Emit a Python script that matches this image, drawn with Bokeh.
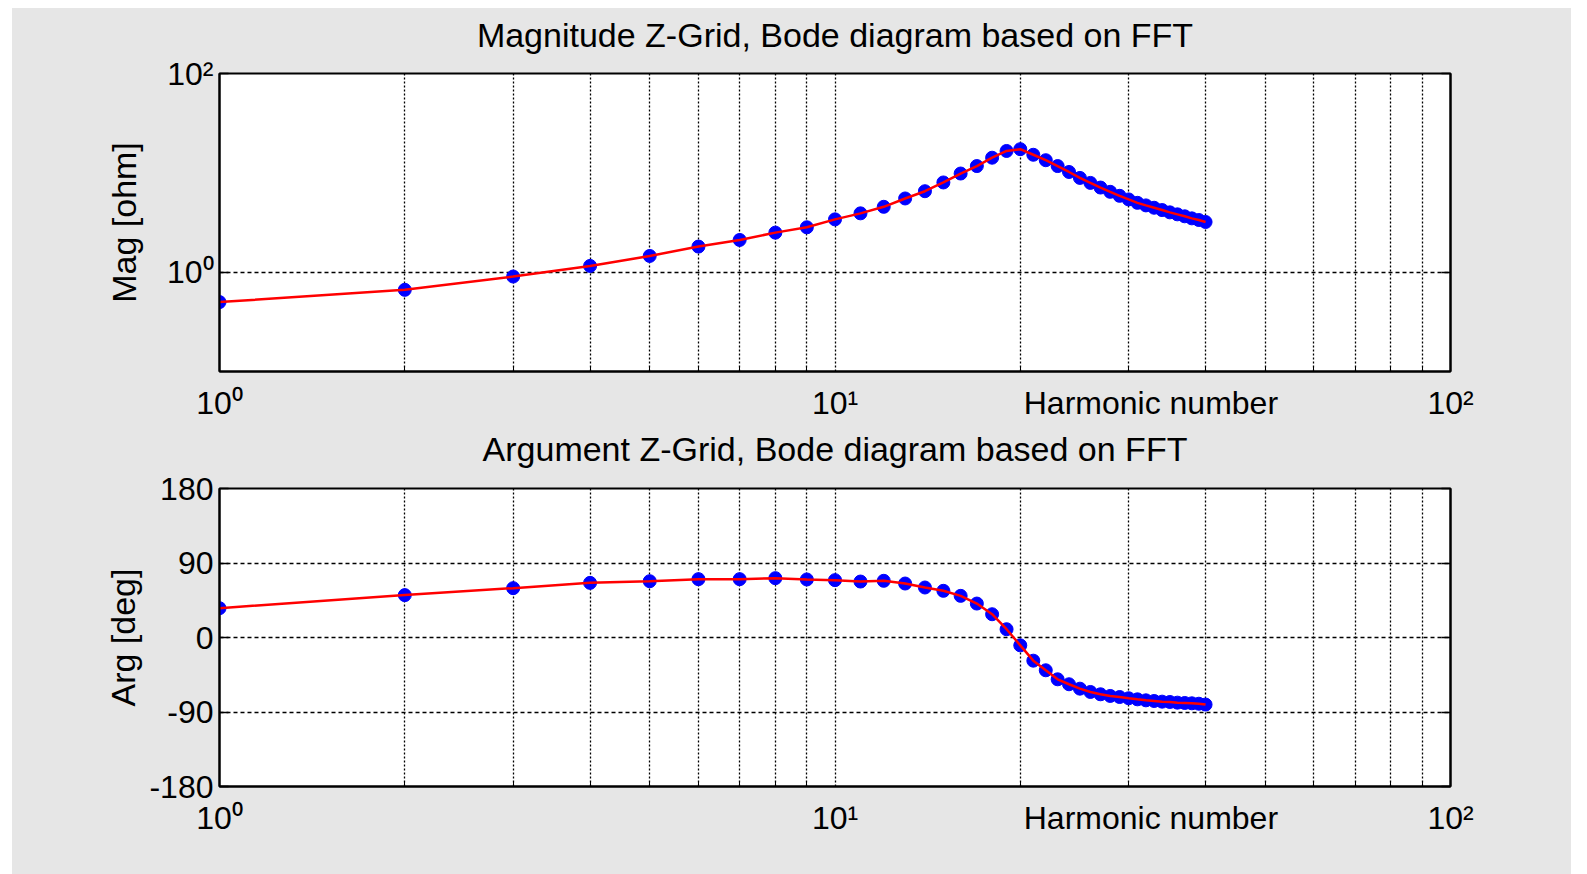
from bokeh.plotting import figure
from bokeh.models import (Range1d, FixedTicker, LogAxis, LinearAxis,
                          ColumnDataSource, CustomJSTickFormatter)
from bokeh.layouts import column
from bokeh.embed import file_html
from bokeh.resources import INLINE

# ---------------- data ----------------
harmonics = list(range(1, 41))
mag_ohm = [0.50, 0.664, 0.904, 1.156, 1.456, 1.81, 2.11, 2.50, 2.83, 3.40,
           3.91, 4.55, 5.52, 6.53, 8.00, 9.84, 11.7, 14.2, 16.6, 17.3,
           15.2, 13.4, 11.7, 10.2, 8.89, 7.92, 7.11, 6.44, 5.87, 5.40,
           4.99, 4.70, 4.45, 4.22, 4.00, 3.82, 3.65, 3.48, 3.35, 3.20]
arg_deg = [35.4, 51.2, 59.6, 66.0, 68.0, 70.5, 70.5, 71.7, 70.1, 69.3,
           67.6, 68.5, 65.2, 60.4, 56.4, 50.3, 41.0, 28.1, 10.0, -9.5,
           -28.0, -39.6, -50.5, -56.5, -61.8, -65.8, -68.6, -70.6, -71.9, -73.4,
           -74.7, -75.9, -76.7, -77.5, -77.9, -78.7, -79.1, -79.5, -80.0, -81.0]

x_major_ticks = [1, 10, 100]
x_minor_ticks = [2, 3, 4, 5, 6, 7, 8, 9, 20, 30, 40, 50, 60, 70, 80, 90]
x_tick_labels = ["10\u2070", "10\u00b9", "10\u00b2"]
mag_ticks = [1, 100]
mag_tick_labels = ["10\u2070", "10\u00b2"]
arg_ticks = [-180, -90, 0, 90, 180]
arg_tick_labels = ["-180", "-90", "0", "90", "180"]

title_mag = "Magnitude Z-Grid, Bode diagram based on FFT"
title_arg = "Argument Z-Grid, Bode diagram based on FFT"
xlabel = "Harmonic number"
xlabel_at = 32.6          # harmonic position where MATLAB put the x label
ylabel_mag = "Mag [ohm]"
ylabel_arg = "Arg [deg]"

FONT = "Liberation Sans"
FS = "32px"      # tick labels
FS_L = "34px"    # titles and axis labels
GRAY = "#e6e6e6"


def fmt(vals, labs):
    return CustomJSTickFormatter(
        args=dict(vals=vals, labs=labs),
        code="""
        for (let i = 0; i < vals.length; i++) {
            if (Math.abs(vals[i] - tick) <= 1e-9 * Math.max(1, Math.abs(vals[i]))) return labs[i];
        }
        return '';
        """)


def style_axis(ax, show_labels=True):
    ax.axis_line_color = "black"
    ax.axis_line_width = 2
    ax.major_tick_in = 9
    ax.major_tick_out = 0
    ax.major_tick_line_color = "black"
    ax.major_tick_line_width = 1.5
    ax.minor_tick_in = 0
    ax.minor_tick_out = 0
    ax.major_label_text_font = FONT
    ax.major_label_text_color = "black"
    if show_labels:
        ax.major_label_text_font_size = FS
    else:
        ax.major_label_text_font_size = "0px"
        ax.major_label_standoff = 0


def make_fig(height, top, bottom, y_type, y_range, title, title_off, yticks, ylabs,
             ylabel, ylabel_standoff, xlab_standoff):
    p = figure(width=1559, height=height, x_axis_type="log", y_axis_type=y_type,
               x_range=Range1d(1, 100), y_range=y_range,
               output_backend="svg", toolbar_location=None,
               min_border_left=207, min_border_right=121,
               min_border_top=top, min_border_bottom=bottom,
               background_fill_color="white", border_fill_color=GRAY,
               outline_line_color="black", outline_line_width=2)

    grid_xt = FixedTicker(ticks=x_major_ticks, minor_ticks=x_minor_ticks)
    axis_xt = FixedTicker(ticks=x_major_ticks + [xlabel_at], minor_ticks=x_minor_ticks)
    yt = FixedTicker(ticks=yticks)

    # bottom x axis (tick labels + MATLAB-style x label on the same line)
    xa = p.xaxis[0]
    xa.ticker = axis_xt
    xa.formatter = fmt(x_major_ticks + [xlabel_at], x_tick_labels + [xlabel])
    style_axis(xa)
    xa.major_tick_line_color = None
    xa.minor_tick_in = 5
    xa.minor_tick_line_color = "black"
    xa.major_label_standoff = xlab_standoff

    # top axis carrying the title
    ta = LogAxis(ticker=FixedTicker(ticks=x_major_ticks))
    ta.formatter = fmt(x_major_ticks, ["" for _ in x_major_ticks])
    style_axis(ta, show_labels=False)
    ta.major_tick_in = 0
    ta.axis_line_color = None
    ta.axis_label = title
    ta.axis_label_text_font = FONT
    ta.axis_label_text_font_size = FS_L
    ta.axis_label_text_font_style = "normal"
    ta.axis_label_text_color = "black"
    ta.axis_label_standoff = title_off
    p.add_layout(ta, "above")

    ya = p.yaxis[0]
    ya.ticker = yt
    ya.formatter = fmt(yticks, ylabs)
    style_axis(ya)
    ya.major_label_standoff = 6
    ya.axis_label = ylabel
    ya.axis_label_text_font = FONT
    ya.axis_label_text_font_size = FS_L
    ya.axis_label_text_font_style = "normal"
    ya.axis_label_text_color = "black"
    ya.axis_label_standoff = ylabel_standoff

    if y_type == "log":
        ra = LogAxis(ticker=FixedTicker(ticks=yticks))
    else:
        ra = LinearAxis(ticker=FixedTicker(ticks=yticks))
    ra.formatter = fmt(yticks, ["" for _ in ylabs])
    style_axis(ra, show_labels=False)
    p.add_layout(ra, "right")

    p.xgrid.ticker = grid_xt
    p.xgrid.grid_line_color = "black"
    p.xgrid.grid_line_dash = "2 2"
    p.xgrid.grid_line_width = 1.3
    p.xgrid.minor_grid_line_color = "black"
    p.xgrid.minor_grid_line_dash = "2 2"
    p.xgrid.minor_grid_line_width = 1.3
    p.ygrid.ticker = yt
    p.ygrid.grid_line_color = "black"
    p.ygrid.grid_line_dash = "4 3"
    p.ygrid.grid_line_width = 1.3
    return p


src = ColumnDataSource(dict(h=harmonics, mag=mag_ohm, arg=arg_deg))

# ---------- magnitude ----------
p1 = make_fig(418, 65, 55, "log", Range1d(0.1, 100), title_mag, 20,
              mag_ticks, mag_tick_labels, ylabel_mag, 21, 13)
p1.scatter("h", "mag", source=src, size=13, color="#0000ff", marker="circle")
p1.line("h", "mag", source=src, line_color="#ff0000", line_width=2.5)

# ---------- argument ----------
p2 = make_fig(448, 62, 88, "linear", Range1d(-180, 180), title_arg, 21,
              arg_ticks, arg_tick_labels, ylabel_arg, 4, 13)
p2.scatter("h", "arg", source=src, size=13, color="#0000ff", marker="circle")
p2.line("h", "arg", source=src, line_color="#ff0000", line_width=2.5)

layout = column(p1, p2, margin=(8, 0, 0, 12), spacing=0,
                styles={"background-color": GRAY})
open("out.html", "w").write(file_html(layout, INLINE))
